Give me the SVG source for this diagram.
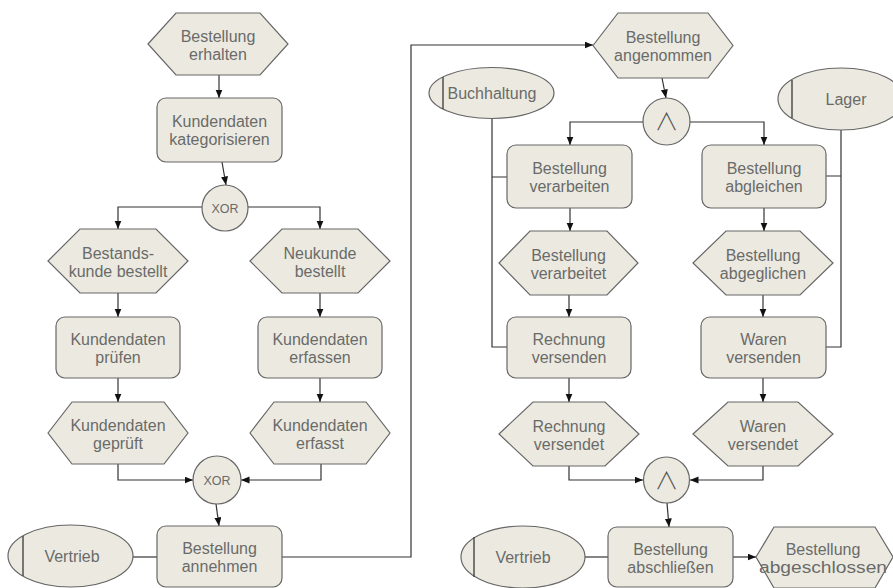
<svg xmlns="http://www.w3.org/2000/svg" width="893" height="588" viewBox="0 0 893 588">
  <style>
    .shape { fill: #ECEAE0; stroke: #666; stroke-width: 1.2; }
    .lbl { font-family: "Liberation Sans", Arial, sans-serif; font-size: 16px; fill: #6a6a6a; text-anchor: middle; }
    .op { font-family: "Liberation Sans", Arial, sans-serif; font-size: 12.5px; fill: #6a6a6a; text-anchor: middle; }
    .and { font-family: "Noto Sans CJK SC", "DejaVu Sans", sans-serif; font-weight: 300; font-size: 24px; fill: #555; text-anchor: middle; }
    .bar { stroke: #444; stroke-width: 1.4; }
    .conn { fill: none; stroke: #333; stroke-width: 1.2; }
    .arr { marker-end: url(#head); }
  </style>
  <defs>
    <marker id="head" markerUnits="userSpaceOnUse" markerWidth="9" markerHeight="8" refX="8.5" refY="3.5" orient="auto">
      <path d="M0,0 L8.5,3.5 L0,7 z" fill="#111"/>
    </marker>
  </defs>
  <rect width="893" height="588" fill="#ffffff"/>

  <!-- connectors -->
  <g id="connectors">
    <path class="conn arr" d="M219,75 L219,98"/>
    <path class="conn arr" d="M222,162 L226,185"/>
    <path class="conn arr" d="M202,207 L118,207 L118,229"/>
    <path class="conn arr" d="M248,207 L320,207 L320,229"/>
    <path class="conn arr" d="M118,293 L118,317"/>
    <path class="conn arr" d="M320,293 L320,317"/>
    <path class="conn arr" d="M118,378 L118,402"/>
    <path class="conn arr" d="M320,378 L320,402"/>
    <path class="conn arr" d="M118,464 L118,480 L193,480"/>
    <path class="conn arr" d="M321,464 L321,480 L241,480"/>
    <path class="conn arr" d="M216,504 L219,526"/>
    <path class="conn" d="M133,557 L157,557"/>
    <path class="conn arr" d="M282,557 L411,557 L411,45 L593,45"/>
    <path class="conn arr" d="M662,78 L666,98"/>
    <path class="conn arr" d="M643,122 L570,122 L570,145"/>
    <path class="conn arr" d="M690,122 L764,122 L764,145"/>
    <path class="conn" d="M492,118 L492,347 L507,347 M492,177 L507,177"/>
    <path class="conn" d="M841,130 L841,347 L826,347 M841,176 L826,176"/>
    <path class="conn arr" d="M570,208 L570,231"/>
    <path class="conn arr" d="M764,208 L764,231"/>
    <path class="conn arr" d="M569,295 L569,317"/>
    <path class="conn arr" d="M763,295 L763,317"/>
    <path class="conn arr" d="M569,378 L569,402"/>
    <path class="conn arr" d="M763,378 L763,402"/>
    <path class="conn arr" d="M569,466 L569,480 L643,480"/>
    <path class="conn arr" d="M763,466 L763,480 L690,480"/>
    <path class="conn arr" d="M667,503 L669,527"/>
    <path class="conn" d="M585,557 L608,557"/>
    <path class="conn arr" d="M733,557 L756,557"/>
  </g>

  <!-- left process chain -->
  <g id="bestellung-erhalten">
    <polygon class="shape" points="148,44 176,13 260,13 288,44 260,75 176,75"/>
    <text class="lbl" x="218" y="42">Bestellung</text>
    <text class="lbl" x="218" y="60">erhalten</text>
  </g>
  <g id="kundendaten-kategorisieren">
    <rect class="shape" x="157" y="98" width="125" height="64" rx="9"/>
    <text class="lbl" x="219.5" y="127">Kundendaten</text>
    <text class="lbl" x="219.5" y="145">kategorisieren</text>
  </g>
  <g id="xor-split">
    <circle class="shape" cx="225" cy="208" r="23"/>
    <text class="op" x="225" y="212.5">XOR</text>
  </g>
  <g id="bestandskunde-bestellt">
    <polygon class="shape" points="48,261 80,229 156,229 188,261 156,293 80,293"/>
    <text class="lbl" x="118" y="259">Bestands-</text>
    <text class="lbl" x="118" y="277">kunde bestellt</text>
  </g>
  <g id="neukunde-bestellt">
    <polygon class="shape" points="250,261 282,229 358,229 390,261 358,293 282,293"/>
    <text class="lbl" x="320" y="259">Neukunde</text>
    <text class="lbl" x="320" y="277">bestellt</text>
  </g>
  <g id="kundendaten-pruefen">
    <rect class="shape" x="56" y="317" width="124" height="61" rx="9"/>
    <text class="lbl" x="118" y="345">Kundendaten</text>
    <text class="lbl" x="118" y="363">prüfen</text>
  </g>
  <g id="kundendaten-erfassen">
    <rect class="shape" x="258" y="317" width="124" height="61" rx="9"/>
    <text class="lbl" x="320" y="345">Kundendaten</text>
    <text class="lbl" x="320" y="363">erfassen</text>
  </g>
  <g id="kundendaten-geprueft">
    <polygon class="shape" points="48,433 72,402 164,402 188,433 164,464 72,464"/>
    <text class="lbl" x="118" y="431">Kundendaten</text>
    <text class="lbl" x="118" y="449">geprüft</text>
  </g>
  <g id="kundendaten-erfasst">
    <polygon class="shape" points="250,433 274,402 366,402 390,433 366,464 274,464"/>
    <text class="lbl" x="320" y="431">Kundendaten</text>
    <text class="lbl" x="320" y="449">erfasst</text>
  </g>
  <g id="xor-join">
    <circle class="shape" cx="217" cy="480" r="24"/>
    <text class="op" x="217" y="484.5">XOR</text>
  </g>
  <g id="bestellung-annehmen">
    <rect class="shape" x="157" y="526" width="125" height="61" rx="9"/>
    <text class="lbl" x="219.5" y="554">Bestellung</text>
    <text class="lbl" x="219.5" y="572">annehmen</text>
  </g>
  <g id="vertrieb-1">
    <ellipse class="shape" cx="70.5" cy="556" rx="62.5" ry="31"/>
    <line class="bar" x1="23" y1="536" x2="23" y2="576"/>
    <text class="lbl" x="72" y="562">Vertrieb</text>
  </g>

  <!-- right process chain -->
  <g id="bestellung-angenommen">
    <polygon class="shape" points="593,45.5 618,13 708,13 733,45.5 708,78 618,78"/>
    <text class="lbl" x="663" y="43">Bestellung</text>
    <text class="lbl" x="663" y="61">angenommen</text>
  </g>
  <g id="and-split">
    <circle class="shape" cx="666.5" cy="121.5" r="23.5"/>
    <text class="and" x="666.5" y="130">∧</text>
  </g>
  <g id="buchhaltung">
    <ellipse class="shape" cx="491.5" cy="93" rx="62.5" ry="25.5"/>
    <line class="bar" x1="443" y1="77" x2="443" y2="109"/>
    <text class="lbl" x="492" y="99">Buchhaltung</text>
  </g>
  <g id="lager">
    <ellipse class="shape" cx="841" cy="99" rx="63" ry="31"/>
    <line class="bar" x1="792" y1="80" x2="792" y2="118"/>
    <text class="lbl" x="846" y="105">Lager</text>
  </g>
  <g id="bestellung-verarbeiten">
    <rect class="shape" x="507" y="145" width="125" height="63" rx="9"/>
    <text class="lbl" x="569.5" y="174">Bestellung</text>
    <text class="lbl" x="569.5" y="192">verarbeiten</text>
  </g>
  <g id="bestellung-abgleichen">
    <rect class="shape" x="702" y="145" width="124" height="63" rx="9"/>
    <text class="lbl" x="764" y="174">Bestellung</text>
    <text class="lbl" x="764" y="192">abgleichen</text>
  </g>
  <g id="bestellung-verarbeitet">
    <polygon class="shape" points="499,263 530,231 607,231 638,263 607,295 530,295"/>
    <text class="lbl" x="568.5" y="261">Bestellung</text>
    <text class="lbl" x="568.5" y="279">verarbeitet</text>
  </g>
  <g id="bestellung-abgeglichen">
    <polygon class="shape" points="693,263 726,231 800,231 833,263 800,295 726,295"/>
    <text class="lbl" x="763" y="261">Bestellung</text>
    <text class="lbl" x="763" y="279">abgeglichen</text>
  </g>
  <g id="rechnung-versenden">
    <rect class="shape" x="507" y="317" width="124" height="61" rx="9"/>
    <text class="lbl" x="569" y="345">Rechnung</text>
    <text class="lbl" x="569" y="363">versenden</text>
  </g>
  <g id="waren-versenden">
    <rect class="shape" x="701" y="317" width="125" height="61" rx="9"/>
    <text class="lbl" x="763.5" y="345">Waren</text>
    <text class="lbl" x="763.5" y="363">versenden</text>
  </g>
  <g id="rechnung-versendet">
    <polygon class="shape" points="499,434 533,402 605,402 639,434 605,466 533,466"/>
    <text class="lbl" x="569" y="432">Rechnung</text>
    <text class="lbl" x="569" y="450">versendet</text>
  </g>
  <g id="waren-versendet">
    <polygon class="shape" points="693,434 728,402 798,402 833,434 798,466 728,466"/>
    <text class="lbl" x="763" y="432">Waren</text>
    <text class="lbl" x="763" y="450">versendet</text>
  </g>
  <g id="and-join">
    <circle class="shape" cx="666.5" cy="480" r="23"/>
    <text class="and" x="666.5" y="488.5">∧</text>
  </g>
  <g id="bestellung-abschliessen">
    <rect class="shape" x="608" y="527" width="125" height="60" rx="9"/>
    <text class="lbl" x="670.5" y="555">Bestellung</text>
    <text class="lbl" x="670.5" y="573">abschließen</text>
  </g>
  <g id="vertrieb-2">
    <ellipse class="shape" cx="523" cy="557" rx="62" ry="31"/>
    <line class="bar" x1="474" y1="537" x2="474" y2="577"/>
    <text class="lbl" x="523" y="563">Vertrieb</text>
  </g>
  <g id="bestellung-abgeschlossen">
    <polygon class="shape" points="756,557 774,527 875,527 893,557 875,588 774,588"/>
    <text class="lbl" x="823" y="555">Bestellung</text>
    <text class="lbl" x="823" y="573" textLength="128" lengthAdjust="spacingAndGlyphs">abgeschlossen</text>
  </g>
</svg>
